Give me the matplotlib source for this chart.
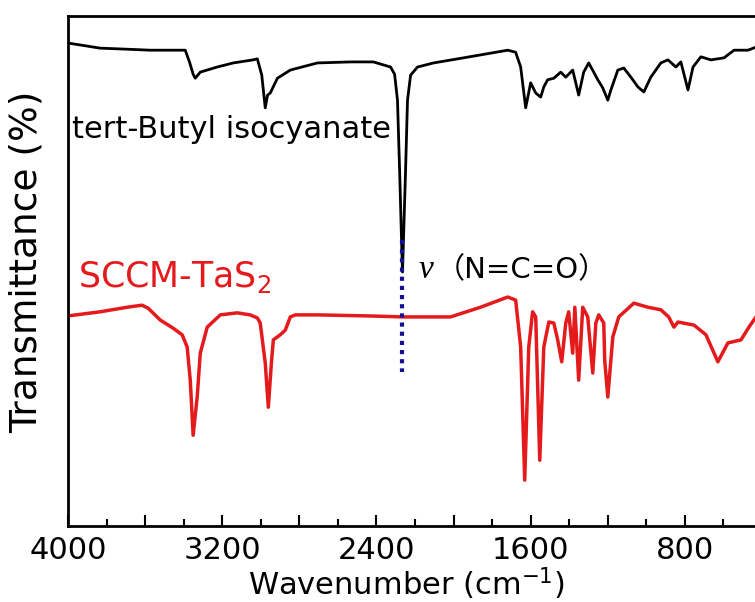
import numpy as np
import matplotlib
matplotlib.use('agg')
import matplotlib.pyplot as plt
import matplotlib.ticker as ticker

# tert-Butyl isocyanate spectrum (wavenumber, transmittance a.u.)
wn_black = [4000, 3900, 3834, 3700, 3574, 3450, 3392, 3370, 3351, 3340, 3314, 3226, 3143,
            3040, 3018, 2995, 2977, 2965, 2951, 2914, 2847, 2706, 2535, 2416, 2327, 2306,
            2291, 2280, 2270, 2265, 2260, 2249, 2239, 2223, 2187, 2104, 1948, 1719, 1678,
            1652, 1626, 1600, 1574, 1548, 1532, 1512, 1480, 1444, 1418, 1382, 1351, 1325,
            1299, 1273, 1252, 1226, 1200, 1184, 1148, 1117, 1080, 1044, 1013, 977, 925,
            888, 847, 821, 784, 758, 717, 665, 597, 545, 473, 431, 400]
t_black = [94.7, 94.1, 93.7, 93.5, 93.3, 93.3, 93.3, 91.0, 88.6, 87.8, 89.0, 90.0, 90.8,
           91.4, 91.6, 88.4, 82.0, 84.5, 84.9, 87.8, 89.4, 90.8, 91.0, 91.0, 90.0, 88.6,
           83.5, 69.8, 56.1, 49.8, 56.1, 69.8, 83.5, 88.4, 90.0, 90.8, 91.8, 93.3, 92.9,
           90.0, 82.0, 86.9, 84.9, 84.1, 86.1, 87.5, 87.8, 89.0, 88.0, 89.4, 84.5, 89.0,
           90.8, 89.0, 87.5, 85.9, 83.5, 85.5, 89.4, 89.8, 88.0, 86.1, 85.1, 88.0, 90.8,
           91.4, 90.0, 91.0, 85.5, 90.0, 92.0, 91.4, 91.8, 93.3, 93.3, 93.9, 94.1]

# SCCM-TaS2 spectrum
wn_red = [4000, 3834, 3693, 3616, 3584, 3522, 3455, 3408, 3382, 3366, 3351, 3330, 3314,
          3278, 3210, 3122, 3055, 3018, 3003, 2977, 2961, 2945, 2935, 2899, 2873, 2847,
          2821, 2706, 2447, 2260, 2016, 1860, 1719, 1678, 1652, 1631, 1610, 1590, 1574,
          1553, 1532, 1506, 1480, 1460, 1439, 1418, 1403, 1382, 1371, 1351, 1330, 1304,
          1278, 1262, 1247, 1221, 1216, 1200, 1174, 1143, 1065, 992, 925, 884, 857, 836,
          753, 691, 629, 577, 509, 468, 431, 400]
t_red = [41.2, 42.0, 42.9, 43.3, 42.7, 40.4, 38.8, 37.5, 35.1, 28.6, 17.8, 25.3, 33.9,
         39.0, 41.4, 41.8, 41.4, 40.8, 39.8, 32.0, 23.3, 32.0, 36.5, 37.5, 38.4, 41.0,
         41.4, 41.4, 41.2, 41.0, 41.0, 42.9, 44.9, 44.3, 35.1, 9.0, 35.1, 42.0, 41.0,
         12.9, 35.1, 40.0, 39.8, 36.5, 32.2, 39.8, 42.0, 33.9, 42.9, 28.6, 42.9, 41.0,
         30.0, 39.8, 41.4, 39.8, 32.5, 25.3, 37.1, 41.0, 43.7, 42.9, 42.4, 41.0, 39.0, 40.0,
         39.4, 37.5, 32.2, 35.9, 36.5, 39.0, 41.0, 42.0]

nco_wn = 2265
nco_range = [56.1, 30.2]

fig = plt.figure(figsize=[7.55, 6.02], dpi=100)
ax = fig.add_axes([0.0901, 0.1262, 0.9192, 0.8472])

ax.plot(wn_black, t_black, color='black', lw=2.0)
ax.plot(wn_red, t_red, color='#e41a1c', lw=2.5)
ax.plot([nco_wn, nco_wn], nco_range, color='#10109a', lw=3.0, dashes=(1, 1.2),
        dash_capstyle='butt')

ax.set_xlim(4000, 400)
ax.set_ylim(0, 100)

ax.text(3979, 76.1, 'tert-Butyl isocyanate', fontsize=22, ha='left', va='baseline')
ax.text(3948, 46.9, 'SCCM-TaS$_2$', fontsize=25, color='#e41a1c', ha='left', va='baseline')
ax.text(2182, 48.6, 'ν', fontsize=24, family='Liberation Serif', style='italic',
        ha='left', va='baseline')
ax.text(2092, 48.6, '（N=C=O）', fontsize=21, family=['DejaVu Sans', 'Noto Sans CJK SC'],
        ha='left', va='baseline')

ax.xaxis.set_major_locator(ticker.MultipleLocator(400))
ax.xaxis.set_minor_locator(ticker.MultipleLocator(200))
ax.xaxis.set_major_formatter(ticker.FuncFormatter(lambda v, p: f'{v:.0f}' if v % 800 == 0 else ''))
ax.tick_params(axis='x', which='major', direction='in', length=8, width=1.5, labelsize=22, pad=7)
ax.tick_params(axis='x', which='minor', direction='in', length=5, width=1.5)
ax.set_yticks([])
for s in ax.spines.values():
    s.set_linewidth(2)

ax.set_xlabel('Wavenumber (cm$^{-1}$)', fontsize=22)
ax.xaxis.set_label_coords((406 - 68) / 694, -0.078)
ax.set_ylabel('Transmittance (%)', fontsize=27)
ax.yaxis.set_label_coords(-0.033, 0.518)

plt.savefig('out.png', dpi=100)
plt.close()
